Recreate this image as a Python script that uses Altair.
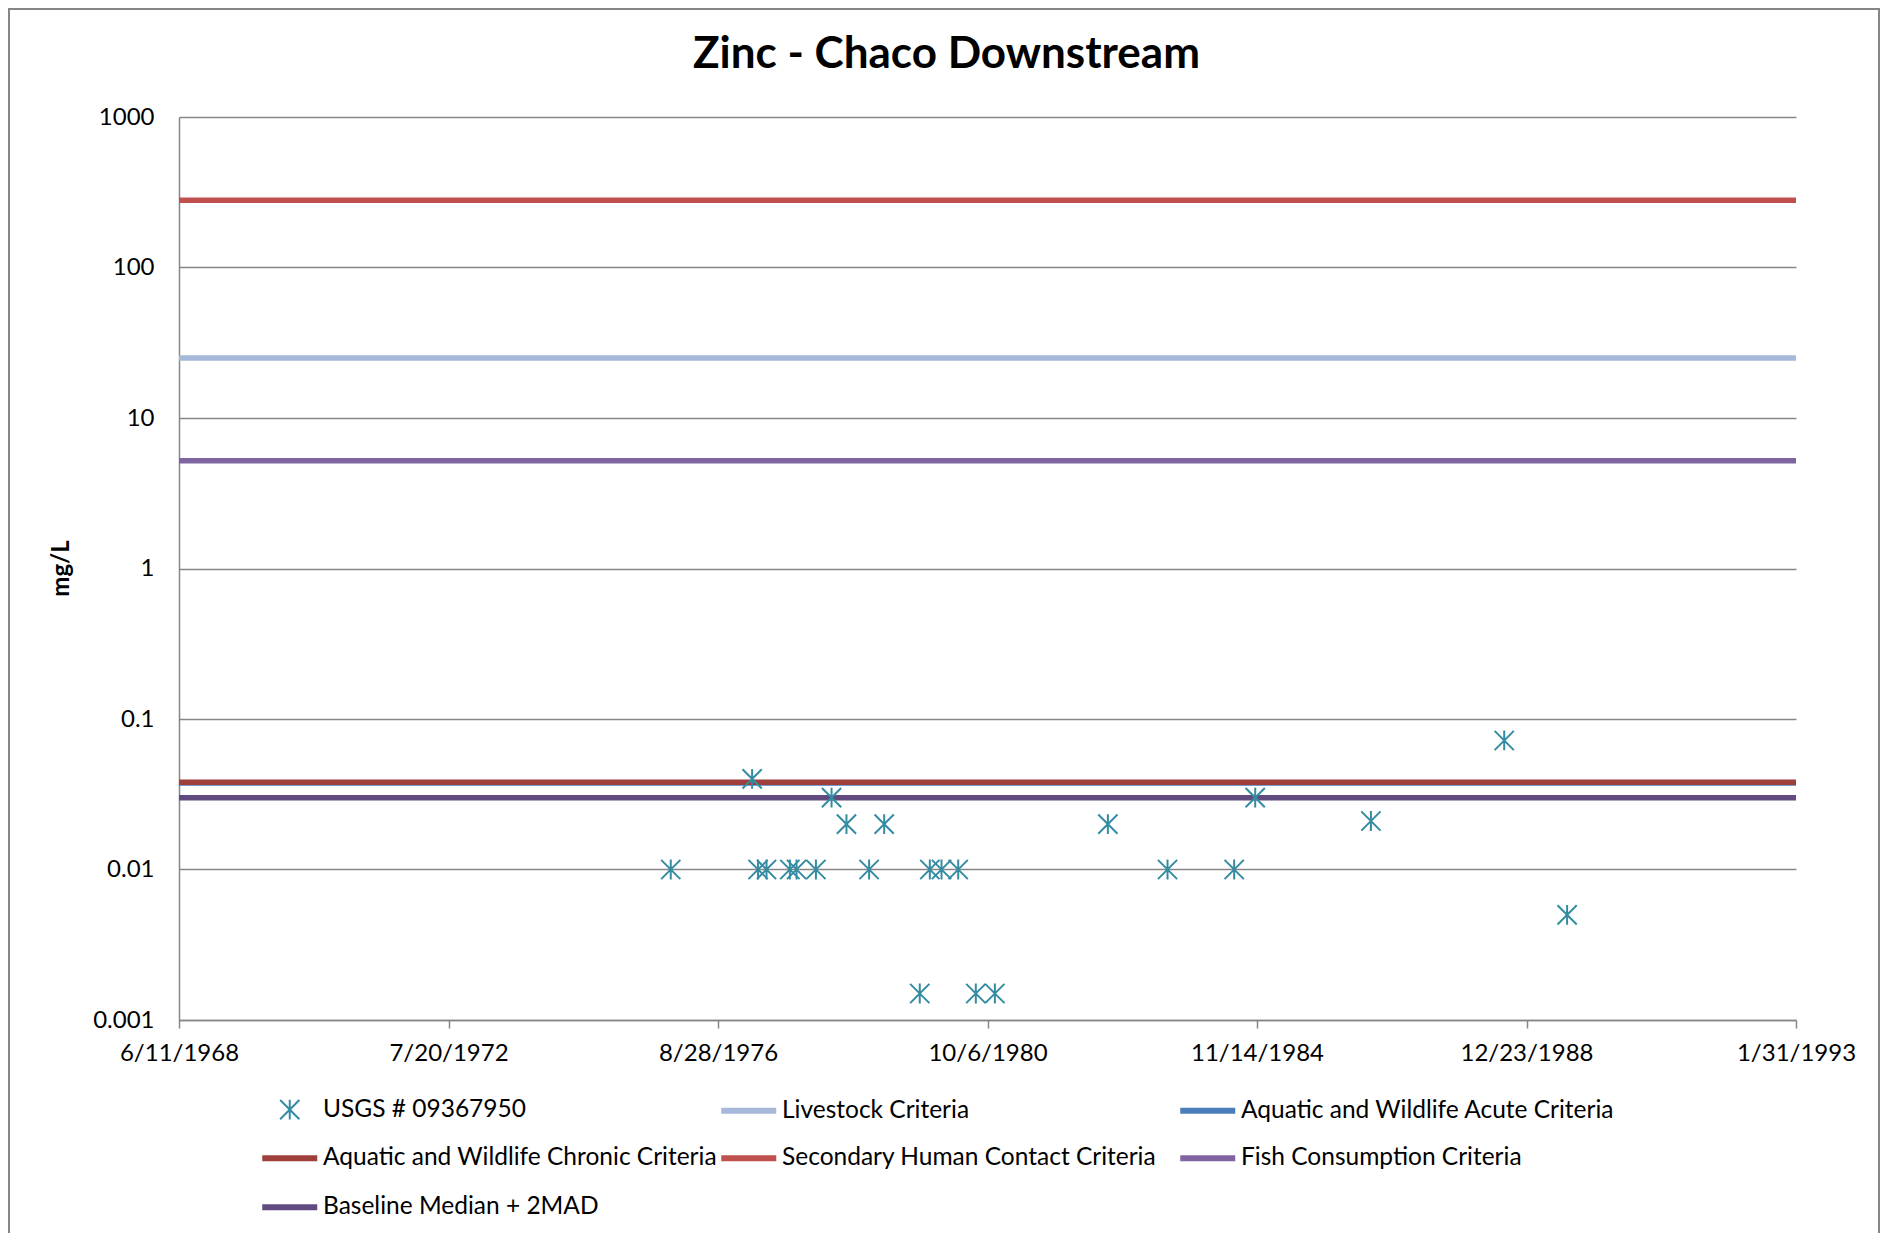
import altair as alt
import pandas as pd

# ---- data ----
point_dates = ["1975-12-09", "1977-03-06", "1977-04-08", "1977-05-25", "1977-10-02",
               "1977-11-08", "1978-02-24", "1978-05-22", "1978-08-13", "1978-12-17",
               "1979-03-11", "1979-09-25", "1979-11-20", "1980-01-24", "1980-04-26",
               "1980-08-02", "1980-11-16", "1982-08-07", "1983-07-05", "1984-07-10",
               "1984-11-04", "1986-08-10", "1988-08-21", "1989-08-06"]
point_values = [0.01, 0.04, 0.01, 0.01, 0.01,
                0.01, 0.01, 0.03, 0.02, 0.01,
                0.02, 0.0015, 0.01, 0.01, 0.01,
                0.0015, 0.0015, 0.02, 0.01, 0.01,
                0.03, 0.021, 0.072, 0.005]

point_series = "USGS # 09367950"
crit_names = ["Livestock Criteria", "Aquatic and Wildlife Acute Criteria",
              "Aquatic and Wildlife Chronic Criteria", "Secondary Human Contact Criteria",
              "Fish Consumption Criteria", "Baseline Median + 2MAD"]
crit_levels = [25, 0.0376, 0.038, 280, 5.2, 0.03]

series_names = [point_series] + crit_names
series_colors = ["#348CA3", "#A7B9DA", "#4A7EBB", "#9E3F3C", "#C0504D", "#8064A2", "#614A7F"]

x_start = "1968-06-11"
x_end = "1993-01-31"
x_ticks = ["1968-06-11", "1972-07-20", "1976-08-28", "1980-10-06",
           "1984-11-14", "1988-12-23", "1993-01-31"]
y_ticks = [0.001, 0.01, 0.1, 1, 10, 100, 1000]

FONT = "Lato"
GRAY = "#868686"
STAR = "M-0.35,-0.35L0.35,0.35M-0.35,0.35L0.35,-0.35M0,-0.36L0,0.36"


def dt(s):
    t = pd.Timestamp(s)
    return alt.DateTime(year=t.year, month=t.month, date=t.day, utc=True)


points_df = pd.DataFrame({"date": point_dates, "value": point_values,
                          "series": [point_series] * len(point_dates)})
lines_df = pd.DataFrame({"series": crit_names, "level": crit_levels,
                         "start": [x_start] * len(crit_names),
                         "end": [x_end] * len(crit_names)})

x_scale = alt.Scale(domain=[dt(x_start), dt(x_end)])
y_scale = alt.Scale(type="log", domain=[0.001, 1000])
color_scale = alt.Scale(domain=series_names, range=series_colors)
shape_scale = alt.Scale(domain=series_names, range=[STAR] + ["stroke"] * len(crit_names))

legend = alt.Legend(
    title=None, orient="none", legendX=79, legendY=980, values=series_names,
    direction="horizontal",
    columns=3, gridAlign="all", columnPadding=-8, rowPadding=21,
    labelFont=FONT, labelFontSize=24.5, labelColor="black", labelOffset=21,
    symbolSize=3025, symbolOffset=19.5, padding=0, labelLimit=600,
    symbolStrokeWidth=alt.ExprRef(expr="datum.value == 'USGS # 09367950' ? 2 : 6"),
)

x_axis = alt.Axis(title=None, values=[dt(s) for s in x_ticks],
                  labelExpr="utcFormat(datum.value, '%-m/%-d/%Y')",
                  labelFont=FONT, labelFontSize=24, labelColor="black",
                  labelPadding=13, tickSize=8, tickColor=GRAY, tickWidth=1.5,
                  domainColor=GRAY, domainWidth=1.5, grid=False, labelFlush=False)
y_axis = alt.Axis(title="mg/L", values=y_ticks, format="~g",
                  labelFont=FONT, labelFontSize=24, labelColor="black", labelPadding=25,
                  ticks=False, domainColor=GRAY, domainWidth=1.5,
                  grid=True, gridColor=GRAY, gridWidth=1.5,
                  titleFont=FONT, titleFontSize=24, titleFontWeight="bold", titleColor="black",
                  titleAngle=270, titleX=-118, titleY=451, titleAlign="center",
                  titleBaseline="middle")

rules = alt.Chart(lines_df).mark_rule(strokeWidth=5.5).encode(
    x=alt.X("start:T", scale=x_scale, axis=x_axis),
    x2="end:T",
    y=alt.Y("level:Q", scale=y_scale, axis=y_axis),
    color=alt.Color("series:N", scale=color_scale, legend=legend),
)

points = alt.Chart(points_df).mark_point(filled=False, size=3025, strokeWidth=2, opacity=1).encode(
    x=alt.X("date:T", scale=x_scale),
    y=alt.Y("value:Q", scale=y_scale),
    color=alt.Color("series:N", scale=color_scale, legend=legend),
    shape=alt.Shape("series:N", scale=shape_scale, legend=legend),
)

border = alt.Chart(pd.DataFrame({"a": [0]})).mark_rect(
    filled=False, stroke=GRAY, strokeWidth=2
).encode(x=alt.value(-170), x2=alt.value(1700), y=alt.value(-108), y2=alt.value(1200))

chart = alt.layer(border, rules, points).properties(
    width=1617, height=903,
    padding={"left": 171, "top": 109, "right": 85, "bottom": 213},
    autosize=alt.AutoSizeParams(type="none"),
    title=alt.TitleParams("Zinc - Chaco Downstream", font=FONT, fontSize=44,
                          fontWeight="bold", color="black", anchor="middle",
                          frame="group", baseline="alphabetic", offset=0, dx=-41, dy=104),
).configure_view(stroke=None)

chart.save("out.html", embed_options={"renderer": "svg", "actions": False})
